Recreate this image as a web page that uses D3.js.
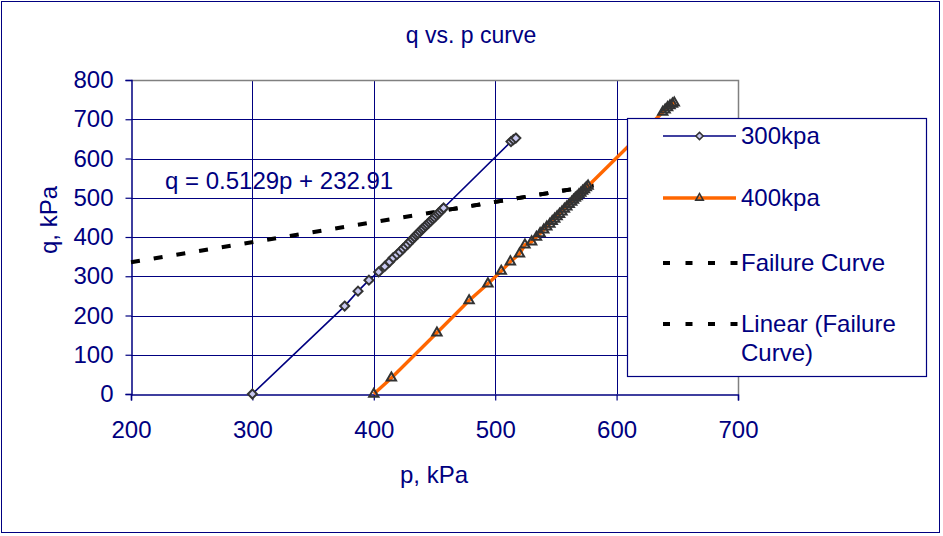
<!DOCTYPE html>
<html>
<head>
<meta charset="utf-8">
<script src="https://cdn.jsdelivr.net/npm/d3@7"></script>
<style>
  body { margin: 0; background: #fff; }
  svg text { font-family: "Liberation Sans", Arial, sans-serif; fill: #000080; }
</style>
</head>
<body>
<div id="chart"></div>
<script>
// q vs. p curve: two triaxial tests and the fitted failure line

const xTicks = [200, 300, 400, 500, 600, 700];
const yTicks = [0, 100, 200, 300, 400, 500, 600, 700, 800];

// 300 kPa confining pressure
const p300 = [300, 376, 387, 396, 404, 409, 413, 416, 419, 421.5, 424, 426, 428, 430, 432, 433.5,
  435, 436.5, 438, 439.5, 441, 442.5, 444, 445.5, 447, 448.5, 450, 451.5, 453, 454.5, 456, 457.5,
  513, 515, 517];
const q300 = [0, 224, 262, 290, 311, 325, 337, 347, 355, 362, 370, 376, 382, 389, 395, 400,
  405, 409, 414, 419, 423, 428, 432, 437, 441, 446, 450, 455, 460, 464, 469, 474,
  643, 648, 652];

// 400 kPa confining pressure
const p400 = [400, 414.5, 452, 478.5, 494, 505, 512.5, 520, 524.5, 530, 534, 537, 540, 542.5, 545,
  547, 549, 551, 553, 555, 557, 559, 561, 563, 564.5, 566, 567.5, 569, 570.5, 572, 573.5, 575, 576.5,
  638, 640, 642, 644, 646, 647.5];
const q400 = [0, 41, 156, 238, 281, 313, 337, 357, 380, 388, 400, 409, 418, 426, 433,
  440, 446, 452, 458, 464, 471, 477, 483, 489, 494, 499, 503, 508, 512, 517, 521, 526, 530,
  718, 724, 730, 735, 739, 742];

// failure points and the linear trendline through them
const pFail = [457.5, 576.5];
const qFail = [467.6, 528.6];
const trendSlope = 0.5129;
const trendIntercept = 232.91;
const trendRange = [200, 592];

const legendNames = ["300kpa", "400kpa", "Failure Curve", "Linear (Failure Curve)"];

const width = 943, height = 536;
const margin = { top: 80, right: 205, bottom: 142, left: 131 };
const navy = "#000080";
const dash = "9,14";

const svg = d3.select("#chart").append("svg")
  .attr("width", width)
  .attr("height", height);

// outer chart frame
svg.append("rect")
  .attr("x", 1.5).attr("y", 1.5)
  .attr("width", 938).attr("height", 531)
  .attr("fill", "#fff").attr("stroke", navy).attr("stroke-width", 1);

const x = d3.scaleLinear().domain([200, 700]).range([margin.left, width - margin.right]);
const y = d3.scaleLinear().domain([0, 800]).range([height - margin.bottom, margin.top]);

// gridlines
svg.append("g")
  .selectAll("line")
  .data(yTicks.filter(d => d > 0 && d < 800))
  .join("line")
  .attr("x1", x(200)).attr("x2", x(700))
  .attr("y1", d => Math.round(y(d)) + 0.5).attr("y2", d => Math.round(y(d)) + 0.5)
  .attr("stroke", navy).attr("stroke-width", 1);

svg.append("g")
  .selectAll("line")
  .data(xTicks.filter(d => d > 200 && d < 700))
  .join("line")
  .attr("y1", y(0)).attr("y2", y(800))
  .attr("x1", d => Math.round(x(d)) + 0.5).attr("x2", d => Math.round(x(d)) + 0.5)
  .attr("stroke", navy).attr("stroke-width", 1);

// plot area border (top and right in gray)
svg.append("path")
  .attr("d", `M${x(200)},${Math.round(y(800)) + 0.5}H${Math.round(x(700)) + 0.5}V${y(0)}`)
  .attr("fill", "none").attr("stroke", "#808080").attr("stroke-width", 1.5);

// axes
const xAxis = svg.append("g")
  .attr("transform", `translate(0,${Math.round(y(0)) + 0.5})`)
  .call(d3.axisBottom(x).tickValues(xTicks).tickSize(6).tickPadding(20));
const yAxis = svg.append("g")
  .attr("transform", `translate(${Math.round(x(200)) + 0.5},0)`)
  .call(d3.axisLeft(y).tickValues(yTicks).tickSize(6).tickPadding(12));

[xAxis, yAxis].forEach(g => {
  g.select(".domain").attr("stroke", navy).attr("stroke-width", 1.5);
  g.selectAll(".tick line").attr("stroke", navy).attr("stroke-width", 1.2);
  g.selectAll(".tick text").attr("fill", navy).attr("font-size", "24px")
    .attr("font-family", "Liberation Sans, Arial, sans-serif");
});

// trendline + failure curve (dashed black), dashes kept in phase
const tA = [x(trendRange[0]), y(trendSlope * trendRange[0] + trendIntercept)];
svg.append("line")
  .attr("x1", tA[0]).attr("y1", tA[1])
  .attr("x2", x(trendRange[1])).attr("y2", y(trendSlope * trendRange[1] + trendIntercept))
  .attr("stroke", "#000").attr("stroke-width", 4)
  .attr("stroke-dasharray", dash);

const line = d3.line().x(d => x(d[0])).y(d => y(d[1]));

const fStart = [x(pFail[0]), y(qFail[0])];
const offset = Math.hypot(fStart[0] - tA[0], fStart[1] - tA[1]);
svg.append("path")
  .datum(pFail.map((p, i) => [p, qFail[i]]))
  .attr("d", line)
  .attr("fill", "none").attr("stroke", "#000").attr("stroke-width", 4)
  .attr("stroke-dasharray", dash)
  .attr("stroke-dashoffset", offset);

// 300 kPa series
const d300 = p300.map((p, i) => [p, q300[i]]);
svg.append("path").datum(d300).attr("d", line)
  .attr("fill", "none").attr("stroke", navy).attr("stroke-width", 1.6);

const diamond = d3.symbol().type(d3.symbolDiamond2).size(52);
svg.append("g").selectAll("path")
  .data(d300).join("path")
  .attr("transform", d => `translate(${x(d[0])},${y(d[1])})`)
  .attr("d", diamond)
  .attr("fill", "#c8c8f0").attr("stroke", "#333").attr("stroke-width", 2);

// 400 kPa series
const d400 = p400.map((p, i) => [p, q400[i]]);
svg.append("path").datum(d400).attr("d", line)
  .attr("fill", "none").attr("stroke", "#ff6600").attr("stroke-width", 3.4);

const tri = d3.symbol().type(d3.symbolTriangle2).size(62);
svg.append("g").selectAll("path")
  .data(d400).join("path")
  .attr("transform", d => `translate(${x(d[0])},${y(d[1])})`)
  .attr("d", tri)
  .attr("fill", "none").attr("stroke", "#333").attr("stroke-width", 2);

// equation label
svg.append("text")
  .attr("x", 165).attr("y", 189)
  .attr("font-size", "24px")
  .text(`q = ${trendSlope}p + ${trendIntercept}`);

// title and axis titles
svg.append("text")
  .attr("x", 471).attr("y", 43)
  .attr("text-anchor", "middle").attr("font-size", "23px")
  .text("q vs. p curve");

svg.append("text")
  .attr("x", 434).attr("y", 483)
  .attr("text-anchor", "middle").attr("font-size", "24px")
  .text("p, kPa");

svg.append("text")
  .attr("transform", "translate(57,220) rotate(-90)")
  .attr("text-anchor", "middle").attr("font-size", "24px")
  .text("q, kPa");

// legend
const legend = svg.append("g");
legend.append("rect")
  .attr("x", 627.5).attr("y", 118.5)
  .attr("width", 299).attr("height", 258)
  .attr("fill", "#fff").attr("stroke", navy).attr("stroke-width", 1.2);

const legendY = [136, 198, 263, 324];
const lx0 = 663, lx1 = 736, tx = 741;

legend.append("line").attr("x1", lx0).attr("x2", lx1).attr("y1", legendY[0]).attr("y2", legendY[0])
  .attr("stroke", navy).attr("stroke-width", 1.6);
legend.append("path").attr("transform", `translate(${(lx0 + lx1) / 2},${legendY[0]})`)
  .attr("d", d3.symbol().type(d3.symbolDiamond2).size(34))
  .attr("fill", "#c8c8f0").attr("stroke", "#333").attr("stroke-width", 1.5);

legend.append("line").attr("x1", lx0).attr("x2", lx1).attr("y1", legendY[1]).attr("y2", legendY[1])
  .attr("stroke", "#ff6600").attr("stroke-width", 3.4);
legend.append("path").attr("transform", `translate(${(lx0 + lx1) / 2},${legendY[1]})`)
  .attr("d", d3.symbol().type(d3.symbolTriangle2).size(40))
  .attr("fill", "none").attr("stroke", "#333").attr("stroke-width", 1.6);

[legendY[2], legendY[3]].forEach(ly => {
  legend.append("line").attr("x1", lx0).attr("x2", lx1 + 2).attr("y1", ly).attr("y2", ly)
    .attr("stroke", "#000").attr("stroke-width", 4).attr("stroke-dasharray", "7,15.5");
});

legend.selectAll("text.l")
  .data(legendNames.slice(0, 3))
  .join("text")
  .attr("x", tx).attr("y", (d, i) => legendY[i] + 8)
  .attr("font-size", "24px")
  .text(d => d);

const lastName = legendNames[3].split(" (");
legend.append("text")
  .attr("x", tx).attr("y", legendY[3] + 8)
  .attr("font-size", "24px")
  .text(`${lastName[0]} (${lastName[1].split(" ")[0]}`);
legend.append("text")
  .attr("x", tx).attr("y", legendY[3] + 37)
  .attr("font-size", "24px")
  .text(lastName[1].split(" ")[1]);
</script>
</body>
</html>
